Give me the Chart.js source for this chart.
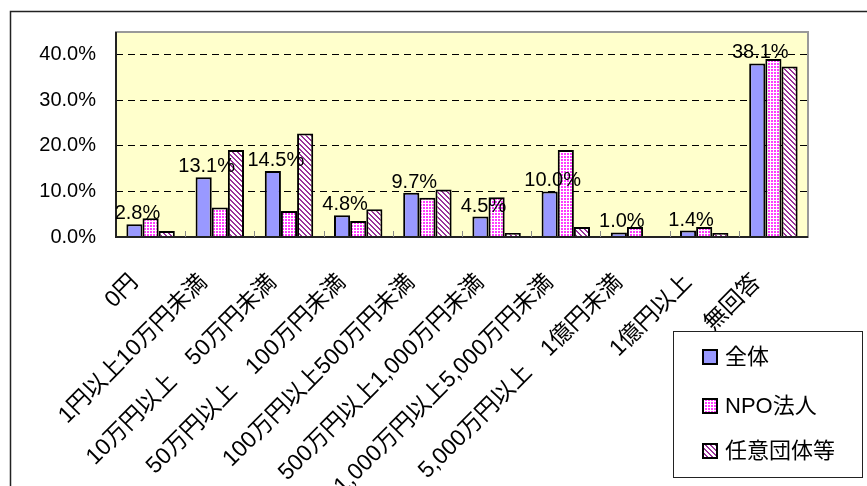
<!DOCTYPE html>
<html>
<head>
<meta charset="utf-8">
<script src="https://cdn.jsdelivr.net/npm/chart.js@4.4.1/dist/chart.umd.min.js"></script>
<style>
  html, body { margin: 0; padding: 0; background: #fff; }
  #wrap { width: 867px; height: 486px; position: relative; }
</style>
</head>
<body>
<div id="wrap"><canvas id="chart"></canvas></div>
<script>
// categories (x axis)
const categories = [
  "0円",
  "1円以上10万円未満",
  "10万円以上　50万円未満",
  "50万円以上　100万円未満",
  "100万円以上500万円未満",
  "500万円以上1,000万円未満",
  "1,000万円以上5,000万円未満",
  "5,000万円以上　1億円未満",
  "1億円以上",
  "無回答"
];

// series values (%)
const zentai = [2.8, 13.1, 14.5, 4.8, 9.7, 4.5, 10.0, 1.0, 1.4, 38.1];
const npo = [4.1, 6.5, 5.7, 3.5, 8.6, 8.7, 19.1, 2.2, 2.2, 39.1];
const nini = [1.3, 19.1, 22.7, 6.1, 10.4, 0.9, 2.2, 0, 0.9, 37.4];

const seriesNames = ["全体", "NPO法人", "任意団体等"];
const yTicks = [0, 10, 20, 30, 40];

const FONT = "'Liberation Sans Narrow', 'Liberation Sans', 'Noto Sans CJK JP', sans-serif";

// build small fill patterns (pixel tiles)
function makePattern(size, painter) {
    const c = document.createElement("canvas");
    c.width = size; c.height = size;
    const cx = c.getContext("2d");
    const img = cx.createImageData(size, size);
    for (let y = 0; y < size; y++) {
        for (let x = 0; x < size; x++) {
            const col = painter(x, y);
            const i = (y * size + x) * 4;
            img.data[i] = col[0]; img.data[i + 1] = col[1]; img.data[i + 2] = col[2]; img.data[i + 3] = 255;
        }
    }
    cx.putImageData(img, 0, 0);
    return cx.createPattern(c, "repeat");
}

const dotPattern = makePattern(3, (x, y) => (x < 2 && y < 2) ? [255, 60, 255] : [255, 255, 255]);
const stripePattern = makePattern(5, (x, y) => (((x - y) % 5 + 5) % 5 < 2) ? [153, 51, 153] : [255, 255, 255]);
const fills = ["#9999FF", dotPattern, stripePattern];

// background, borders, tick marks, data labels, legend
const decorPlugin = {
    id: "decor",
    beforeDraw(chart) {
        const { ctx, chartArea: a } = chart;
        ctx.save();
        ctx.fillStyle = "#fff";
        ctx.fillRect(0, 0, chart.width, chart.height);
        // outer frame
        ctx.strokeStyle = "#222";
        ctx.lineWidth = 1.5;
        ctx.beginPath();
        ctx.moveTo(10.5, chart.height);
        ctx.lineTo(10.5, 11.5);
        ctx.lineTo(chart.width, 11.5);
        ctx.stroke();
        // plot area
        ctx.fillStyle = "#FFFFCC";
        ctx.fillRect(a.left, a.top, a.right - a.left, a.bottom - a.top);
        ctx.strokeStyle = "#999";
        ctx.lineWidth = 2;
        ctx.strokeRect(a.left, a.top, a.right - a.left, a.bottom - a.top);
        ctx.restore();
    },
    afterDatasetsDraw(chart) {
        const { ctx, chartArea: a } = chart;
        const xs = chart.scales.x;
        ctx.save();
        // axis lines
        ctx.strokeStyle = "#222";
        ctx.lineWidth = 2;
        ctx.beginPath();
        ctx.moveTo(a.left, a.top);
        ctx.lineTo(a.left, a.bottom);
        ctx.lineTo(a.right, a.bottom);
        ctx.stroke();
        // tick marks between categories
        ctx.strokeStyle = "#888";
        ctx.lineWidth = 1;
        const step = xs.getPixelForValue(1) - xs.getPixelForValue(0);
        for (let i = 1; i < categories.length; i++) {
            const x = Math.round(xs.getPixelForValue(i) - step / 2) + 0.5;
            ctx.beginPath();
            ctx.moveTo(x, a.bottom);
            ctx.lineTo(x, a.bottom - 6);
            ctx.stroke();
        }
        // data labels for 全体
        ctx.fillStyle = "#000";
        ctx.font = "20px " + FONT;
        ctx.textAlign = "center";
        ctx.textBaseline = "alphabetic";
        chart.getDatasetMeta(0).data.forEach((bar, i) => {
            ctx.fillText(zentai[i].toFixed(1) + "%", bar.x + 3, bar.y - 5);
        });
        ctx.restore();
    },
    afterDraw(chart) {
        const { ctx } = chart;
        ctx.save();
        // legend box
        ctx.fillStyle = "#fff";
        ctx.fillRect(673, 331, 189, 146);
        ctx.strokeStyle = "#222";
        ctx.lineWidth = 1;
        ctx.strokeRect(673.5, 331.5, 189, 146);
        const rows = [357, 406, 451];
        ctx.font = "22px " + FONT;
        ctx.textBaseline = "middle";
        ctx.textAlign = "left";
        seriesNames.forEach((name, i) => {
            ctx.fillStyle = fills[i];
            ctx.fillRect(703, rows[i] - 7, 14, 14);
            ctx.strokeStyle = "#000";
            ctx.lineWidth = 2;
            ctx.strokeRect(703, rows[i] - 7, 14, 14);
            ctx.fillStyle = "#000";
            ctx.fillText(name, 725, rows[i] + 1);
        });
        ctx.restore();
    }
};

new Chart("chart", {
    type: "bar",
    data: {
        labels: categories,
        datasets: [zentai, npo, nini].map((vals, i) => ({
            label: seriesNames[i],
            data: vals,
            backgroundColor: fills[i],
            borderColor: "#000",
            borderWidth: 2,
            categoryPercentage: 0.7,
            barPercentage: 1.0
        }))
    },
    plugins: [decorPlugin],
    options: {
        responsive: true,
        maintainAspectRatio: false,
        animation: false,
        devicePixelRatio: 1,
        layout: { padding: { top: 29, right: 59, left: 0, bottom: 0 } },
        plugins: {
            legend: { display: false },
            tooltip: { enabled: false }
        },
        scales: {
            x: {
                grid: { display: false },
                border: { display: false },
                ticks: {
                    autoSkip: false,
                    minRotation: 45,
                    maxRotation: 45,
                    padding: 24,
                    labelOffset: -16,
                    color: "#000",
                    font: { size: 23, family: FONT }
                },
                afterFit(scale) { scale.height = 249; }
            },
            y: {
                min: 0,
                max: 45,
                afterBuildTicks(scale) {
                    scale.ticks = yTicks.map(v => ({ value: v }));
                },
                grid: {
                    color: (c) => c.tick && c.tick.value === 0 ? "rgba(0,0,0,0)" : "#000",
                    lineWidth: 1,
                    drawTicks: false
                },
                border: { display: false, dash: [7, 5] },
                ticks: {
                    padding: 20,
                    color: "#000",
                    font: { size: 20, family: FONT },
                    callback: (v) => v.toFixed(1) + "%"
                },
                afterFit(scale) { scale.width = 116; }
            }
        }
    }
});
</script>
</body>
</html>
